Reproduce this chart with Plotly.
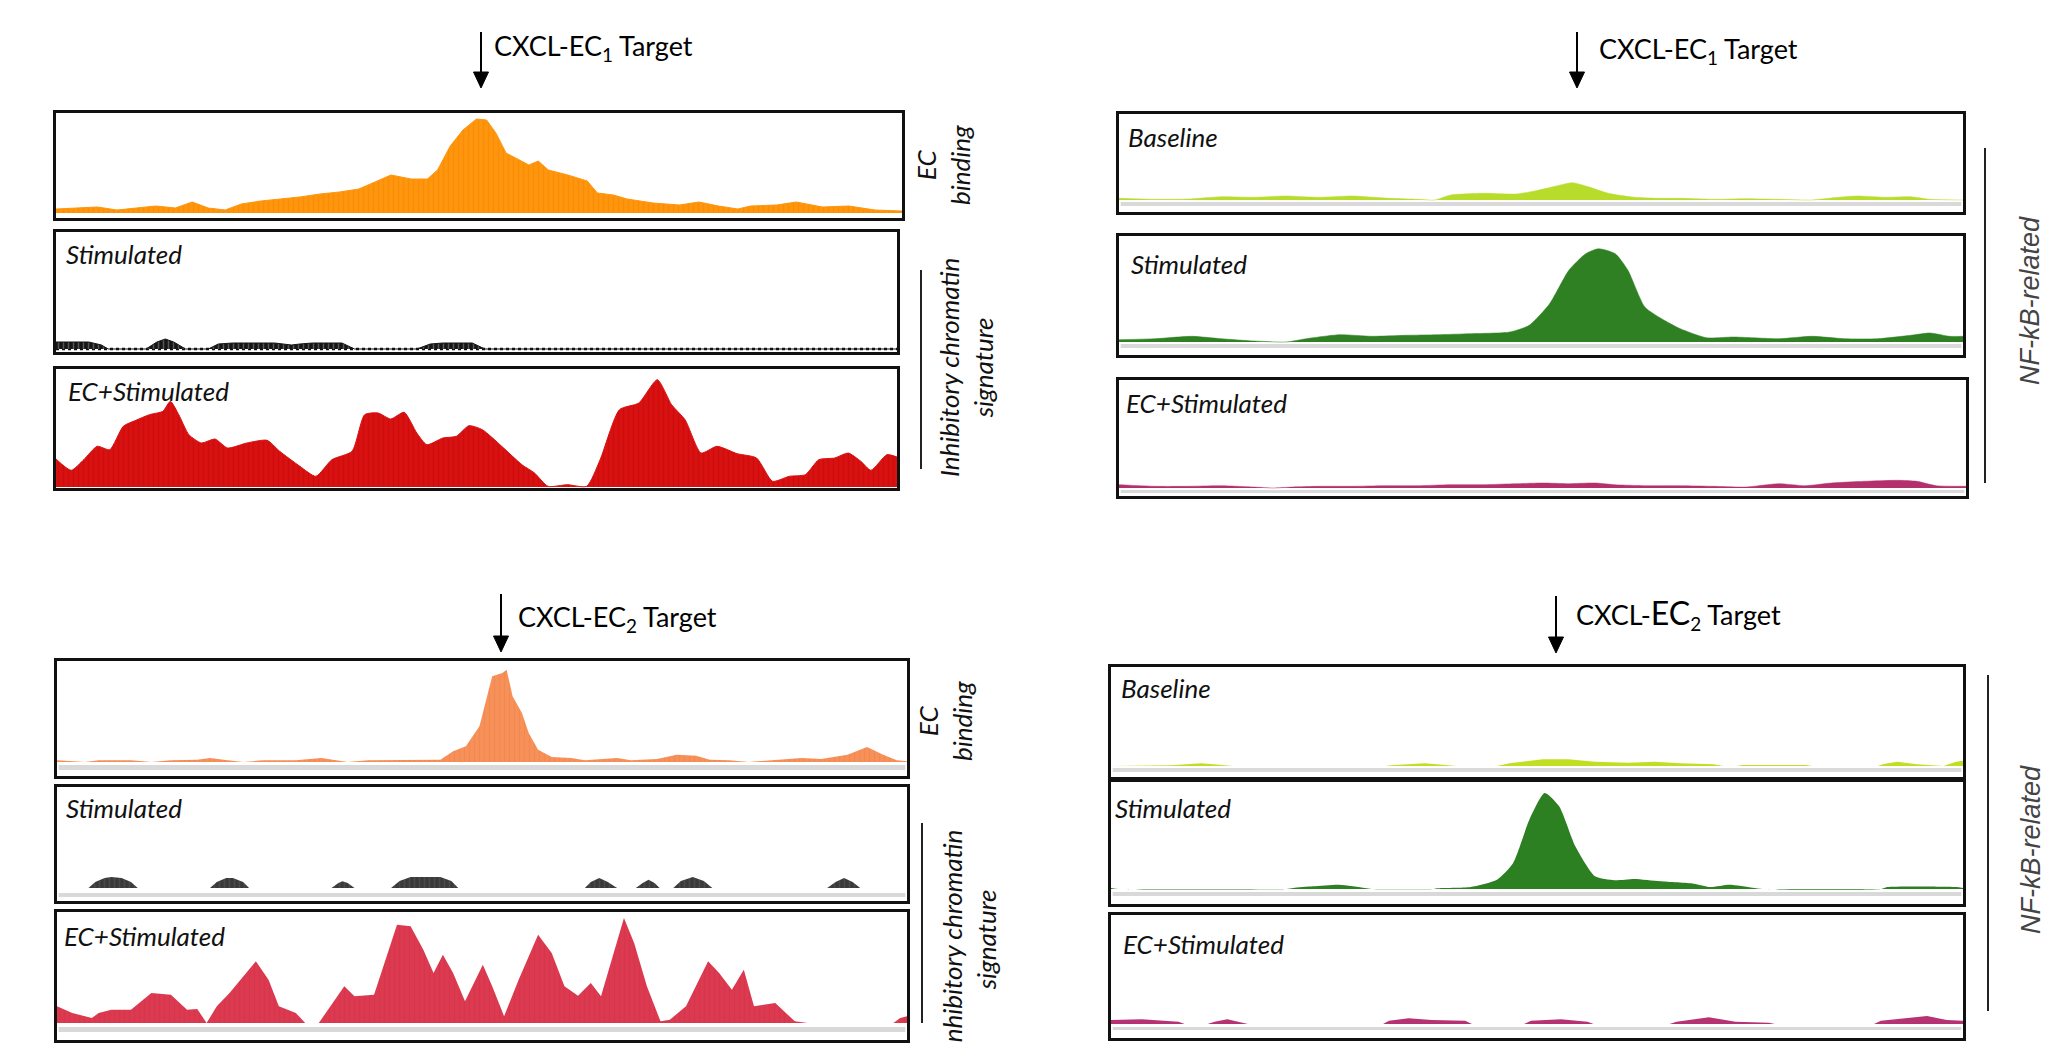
import plotly.graph_objects as go

W, H = 2047, 1043

# ---------------- data (position along locus in %, signal height) ----------------
# CXCL-EC1 locus, left group
EC1_BIND_X = [0, 4.9, 7.2, 9.5, 11.8, 14.1, 16.1, 18.0, 20.0, 21.9, 24.2, 26.5, 28.8, 31.2, 33.5, 35.8,
              38.1, 39.6, 42.0, 43.9, 45.1, 46.6, 48.1, 49.7, 50.9, 52.0, 53.2, 54.7, 55.9, 57.0, 58.2,
              60.5, 62.8, 64.0, 65.9, 67.5, 70.6, 73.7, 76.0, 78.3, 80.6, 82.1, 85.2, 87.5, 90.6, 93.7,
              96.8, 100]
EC1_BIND_Y = [4, 6, 3, 5, 7, 5, 11, 5, 3, 9, 12, 14, 16, 19, 21, 24, 32, 38, 34, 34, 43, 67, 83, 94, 93,
              80, 60, 53, 48, 52, 43, 38, 32, 20, 18, 14, 10, 8, 11, 7, 4, 7, 8, 11, 6, 7, 3, 2]

EC1_STIM_X = [0, 3.9, 5.4, 6.2, 10.7, 12.0, 13.0, 14.0, 15.4, 18.1, 19.3, 21.0, 26.0, 28.0, 29.0, 30.5,
              34.0, 35.5, 42.9, 44.5, 46.0, 49.5, 51.0, 100]
EC1_STIM_Y = [7, 7, 4, 0, 0, 7, 10, 7, 0, 0, 5, 6, 6, 4, 5, 6, 6, 0, 0, 5, 6, 6, 0, 0]

EC1_ECSTIM_X = [0, 1.8, 3.3, 4.9, 6.4, 8.0, 9.5, 11.1, 12.7, 13.6, 14.6, 15.8, 17.3, 18.9, 20.4, 22.7,
                25.1, 26.6, 29.0, 30.9, 32.8, 35.2, 36.7, 38.3, 39.8, 41.4, 42.9, 44.1, 46.0, 47.6, 49.1,
                50.7, 53.0, 55.4, 56.9, 58.5, 60.8, 63.1, 64.7, 67.0, 69.3, 71.5, 73.2, 74.8, 76.7, 78.6,
                81.0, 83.3, 85.2, 87.2, 89.1, 90.7, 92.6, 94.2, 95.7, 96.9, 98.8, 100]
EC1_ECSTIM_Y = [28, 16.7, 27.3, 40.7, 37.3, 60.7, 66.7, 72.3, 75.7, 85.7, 72.3, 52.3, 44, 48, 39, 44, 46.7,
                35.7, 20.7, 10.7, 27.3, 35.7, 72.3, 74, 68, 74.7, 54, 42.3, 49, 50.7, 61.3, 57.3, 40.7,
                22.3, 14, 0.7, 2.3, 0.7, 27.3, 77.3, 84, 107.3, 82.3, 67.3, 34, 40.7, 33.3, 29, 5.7, 10.7,
                12.3, 27.3, 29, 34, 25.7, 16.7, 32.3, 30]

# CXCL-EC1 locus, NF-kB group
NFK1_BASE_X = [0, 4.3, 8.2, 12.1, 16.0, 19.8, 23.7, 27.6, 31.5, 35.4, 37.4, 39.3, 43.2, 47.1, 49.4, 51.8,
               53.7, 55.6, 58.0, 61.1, 64.2, 66.5, 70.4, 74.3, 78.2, 82.1, 85.2, 87.5, 90.7, 93.8, 96.1, 100]
NFK1_BASE_Y = [1.7, 0.7, 1, 3.3, 2.7, 4, 2.7, 4, 2, 0.7, 0, 5, 6.7, 6, 9.3, 14, 17.3, 13.3, 6.7, 2.7, 1.7,
               1.7, 0.7, 1.3, 0.7, 0, 2.7, 4, 2.7, 3.3, 0.7, 0]

NFK1_STIM_X = [0, 4.3, 8.6, 12.1, 16.0, 19.8, 22.2, 26.1, 30.0, 33.9, 37.7, 41.6, 46.3, 48.6, 51.0, 53.3,
               55.3, 56.8, 58.8, 60.3, 62.3, 64.6, 66.5, 69.6, 72.8, 78.2, 82.1, 86.0, 89.9, 93.8, 96.1,
               98.4, 100]
NFK1_STIM_Y = [2.3, 3.3, 5.7, 3.3, 1, 0, 3.3, 7.3, 5.7, 6.7, 7.3, 8.3, 10, 16.7, 38, 71.7, 88.3, 93.3,
               88.3, 71.7, 35, 21.7, 13.3, 4.3, 5, 3.3, 5.7, 3.3, 3.3, 6.7, 9, 5.7, 5.7]

NFK1_ECSTIM_X = [0, 4.3, 8.1, 12.0, 15.9, 18.2, 20.5, 23.6, 27.5, 31.4, 35.3, 39.1, 43.0, 46.9, 50.0,
                 53.1, 56.2, 58.5, 62.4, 66.3, 70.2, 74.0, 77.9, 81.0, 84.1, 88.0, 91.9, 94.2, 96.5, 100]
NFK1_ECSTIM_Y = [3.3, 1.7, 1.7, 2.3, 1, 0, 1, 1.7, 1.7, 2.3, 2.3, 3.3, 3.3, 4.3, 5, 4.3, 5, 3.3, 2.3, 2.3,
                 1.7, 1, 4.3, 2.3, 5, 6.7, 7.7, 6.7, 2.3, 1.7]

# CXCL-EC2 locus, left group
EC2_BIND_X = [0, 3.3, 4.9, 8.7, 11.1, 13.4, 16.5, 18.0, 19.6, 21.9, 24.2, 28.1, 31.1, 32.7, 34.2, 36.6,
              41.2, 45.1, 46.6, 48.1, 49.7, 51.2, 52.4, 52.9, 53.6, 54.7, 55.5, 56.6, 58.2, 60.5, 62.1,
              65.9, 67.5, 70.6, 72.9, 75.2, 76.8, 79.1, 81.4, 83.7, 87.6, 89.9, 93.0, 95.3, 97.2, 98.8, 100]
EC2_BIND_Y = [1.7, 0, 1.7, 1.7, 0, 1.7, 2.3, 4, 2.3, 0, 1.7, 1.7, 4, 1.7, 0, 1.7, 1.7, 2.3, 10.7, 15.7,
              35.7, 85.7, 89, 92.3, 65.7, 49, 29, 12.3, 5, 4, 1.7, 4, 1.7, 3, 7.3, 6.3, 2.3, 1.7, 0, 1.7,
              4, 3, 7.3, 15, 7.3, 1.7, 0.7]

EC2_STIM_X = [0, 3.7, 4.5, 5.6, 6.4, 7.6, 8.7, 9.5, 18.0, 18.8, 19.9, 20.7, 21.9, 22.6, 32.3, 33.1, 33.6,
              34.2, 35.0, 39.3, 40.3, 41.6, 45.1, 46.4, 47.2, 62.1, 62.8, 63.8, 64.8, 65.9, 68.1, 68.9,
              69.6, 70.3, 70.9, 72.5, 73.4, 74.8, 76.1, 77.1, 90.6, 91.6, 92.6, 93.6, 94.5, 100]
EC2_STIM_Y = [0, 0, 6, 10, 11, 10, 6, 0, 0, 6, 10, 10, 6, 0, 0, 5, 6.7, 5, 0, 0, 7, 11, 11, 7, 0, 0, 6,
              10, 6, 0, 0, 5, 8.3, 5, 0, 0, 7, 11, 7, 0, 0, 6, 10, 6, 0, 0]

EC2_ECSTIM_X = [0, 1.8, 4.1, 4.9, 6.4, 8.7, 11.1, 13.4, 15.3, 16.5, 17.6, 18.8, 20.3, 23.4, 24.9, 26.1,
                28.1, 29.2, 30.8, 31.9, 33.8, 35.0, 37.3, 40.0, 41.6, 43.1, 44.3, 45.4, 46.6, 48.0, 50.1,
                51.2, 52.6, 54.3, 56.6, 58.2, 59.7, 61.3, 62.8, 64.0, 65.5, 66.7, 67.9, 69.4, 71.0, 72.1,
                74.0, 76.6, 77.9, 79.4, 80.8, 82.0, 84.5, 86.8, 88.3, 98.4, 99.2, 100]
EC2_ECSTIM_Y = [16.7, 10, 5, 10, 13.3, 13.3, 30, 28.3, 13.3, 14, 0, 16.7, 30, 61.7, 43, 16.7, 10, 0, 0,
                13.3, 36.7, 26.7, 28.3, 98.3, 96.7, 73.3, 50, 68.3, 50, 21.7, 58.3, 36.7, 6.7, 43, 88.3,
                70, 36.7, 27.3, 40, 26.7, 70, 105, 80, 36.7, 1.7, 3.3, 16.7, 61.7, 50, 33.3, 53.3, 16.7,
                20, 1.7, 0, 0, 5, 6.7]

# CXCL-EC2 locus, NF-kB group
NFK2_BASE_X = [0, 6.3, 7.1, 10.6, 13.6, 14.4, 32.2, 32.9, 36.8, 39.9, 40.6, 45.3, 46.8, 50.7, 53.7, 56.8,
               60.7, 63.8, 66.8, 70.7, 71.9, 73.4, 74.2, 81.5, 82.3, 90.0, 90.7, 92.3, 94.6, 97.7, 99.2, 100]
NFK2_BASE_Y = [0, 0, 0.7, 2.7, 0.7, 0, 0, 0.7, 2.7, 0.7, 0, 0, 2.7, 6.7, 6.7, 4.3, 3.3, 4.3, 2.7, 1.7, 0,
               0, 1, 1, 0, 0, 2, 4.3, 1.7, 0, 4.3, 5.3]

NFK2_STIM_X = [0, 0.9, 20.6, 21.4, 23.7, 26.8, 29.8, 30.6, 37.9, 38.3, 42.2, 45.3, 47.2, 49.1, 50.9, 52.6,
               54.5, 56.8, 59.1, 61.4, 64.5, 68.4, 70.3, 72.6, 75.3, 76.5, 90.4, 91.1, 99.2, 100]
NFK2_STIM_Y = [1, 0, 0, 1, 2.7, 4.3, 1, 0, 0, 0.7, 2, 9.3, 26, 69.3, 96, 82.7, 42.7, 12.7, 8.7, 10, 7.7,
               5.3, 2, 4.3, 1.3, 0, 0, 2, 2, 1]

NFK2_ECSTIM_X = [0, 3.6, 7.9, 8.6, 11.3, 12.1, 13.6, 15.2, 16.0, 31.8, 32.5, 34.8, 37.5, 41.4, 42.2, 48.3,
                 49.1, 52.6, 55.7, 56.4, 65.3, 66.1, 69.9, 73.0, 76.9, 77.6, 89.2, 90.0, 95.4, 97.7, 99.6]
NFK2_ECSTIM_Y = [4, 4.7, 2.3, 0, 0, 2.3, 4.7, 1.3, 0, 0, 3.3, 5.7, 4, 3.3, 0, 0, 3.3, 4.7, 2.3, 0, 0, 2.3,
                 6.7, 2.3, 1.3, 0, 0, 3.3, 8, 4, 3.3]

TITLES = ["CXCL-EC<sub>1</sub> Target", "CXCL-EC<sub>1</sub> Target",
          "CXCL-EC<sub>2</sub> Target", "CXCL-<span style='font-size:32px'>EC</span><sub>2</sub> Target"]
TRACK_LABELS = ["Stimulated", "EC+Stimulated", "Baseline"]
SIDE_LABELS = ["EC<br>binding", "Inhibitory chromatin<br>signature", "NF-kB-related"]

# ---------------- layout helpers ----------------
def px(x):
    return x / W

def py(y):
    return 1 - y / H

FONT = "Lato"

panels = [
    # (x data, y data, colour, pattern fg, line shape, line width, box(x0,x1,ytop,ybot), baseline px, band px, label)
    (EC1_BIND_X, EC1_BIND_Y, "#ff960e", "#f28300", "linear", 1, (56, 902, 113, 218), 213, None, None),
    (EC1_STIM_X, EC1_STIM_Y, "#151515", "#9a9a9a", "linear", 1, (56, 897, 232, 352), 349, None, (TRACK_LABELS[0], 64, 252)),
    (EC1_ECSTIM_X, EC1_ECSTIM_Y, "#d81111", "#c40808", "spline", 1, (56, 897, 369, 488), 487, None, (TRACK_LABELS[1], 66, 389)),
    (NFK1_BASE_X, NFK1_BASE_Y, "#b7dc2b", None, "spline", 0.5, (1119, 1963, 114, 212), 200, (202, 206), (TRACK_LABELS[2], 1126, 135)),
    (NFK1_STIM_X, NFK1_STIM_Y, "#2e8022", None, "spline", 0.5, (1119, 1963, 236, 355), 342, (344, 348), (TRACK_LABELS[0], 1129, 262)),
    (NFK1_ECSTIM_X, NFK1_ECSTIM_Y, "#b3306c", None, "spline", 0.5, (1119, 1966, 380, 496), 488, (490, 493), (TRACK_LABELS[1], 1124, 401)),
    (EC2_BIND_X, EC2_BIND_Y, "#f7915a", "#f08248", "linear", 0, (57, 907, 661, 776), 762, (765, 770), None),
    (EC2_STIM_X, EC2_STIM_Y, "#3a3a3a", "#5a5a5a", "linear", 0, (57, 907, 787, 901), 888, (893, 897), (TRACK_LABELS[0], 64, 806)),
    (EC2_ECSTIM_X, EC2_ECSTIM_Y, "#dc3a50", "#d03046", "linear", 0, (57, 907, 912, 1040), 1023, (1027, 1032), (TRACK_LABELS[1], 62, 934)),
    (NFK2_BASE_X, NFK2_BASE_Y, "#c1df22", None, "linear", 0, (1111, 1963, 667, 777), 766, (768, 772), (TRACK_LABELS[2], 1119, 686)),
    (NFK2_STIM_X, NFK2_STIM_Y, "#2d8022", None, "spline", 0, (1111, 1963, 782, 904), 889, (892, 896), (TRACK_LABELS[0], 1113, 806)),
    (NFK2_ECSTIM_X, NFK2_ECSTIM_Y, "#b53372", None, "linear", 0, (1111, 1963, 915, 1038), 1024, (1027, 1030), (TRACK_LABELS[1], 1121, 942)),
]

fig = go.Figure()
layout = dict(width=W, height=H, margin=dict(l=0, r=0, t=0, b=0),
              paper_bgcolor="white", plot_bgcolor="white", showlegend=False)
shapes = []
annotations = []

for i, (xs, ys, col, pfg, shp, lw, box, base, band, label) in enumerate(panels, start=1):
    x0, x1, yt, yb = box
    sfx = "" if i == 1 else str(i)
    layout["xaxis" + sfx] = dict(domain=[px(x0), px(x1)], range=[xs[0], xs[-1]], anchor="y" + sfx,
                                 showline=True, mirror=True, linecolor="#111", linewidth=3,
                                 showgrid=False, zeroline=False, showticklabels=False, ticks="",
                                 fixedrange=True)
    layout["yaxis" + sfx] = dict(domain=[py(yb), py(yt)], range=[-(yb - base), base - yt], anchor="x" + sfx,
                                 showline=True, mirror=True, linecolor="#111", linewidth=3,
                                 showgrid=False, zeroline=False, showticklabels=False, ticks="",
                                 fixedrange=True)
    if band is not None:
        shapes.append(dict(type="rect", xref="x" + sfx + " domain", yref="y" + sfx,
                           x0=0.002, x1=0.998, y0=base - band[1], y1=base - band[0],
                           fillcolor="#d9d9d9", line=dict(width=0), layer="below"))
    tr = dict(x=xs, y=ys, mode="lines", fill="tozeroy", fillcolor=col,
              line=dict(color=col, width=lw, shape=shp, smoothing=0.6),
              xaxis="x" + sfx, yaxis="y" + sfx, hoverinfo="skip")
    if pfg is not None:
        tr["fillpattern"] = dict(shape="|", size=5, solidity=0.3, fgcolor=pfg, bgcolor=col)
    if i == 2:
        fig.add_trace(go.Scatter(x=[xs[0], xs[-1]], y=[0, 0], mode="lines",
                                 line=dict(color="#111", width=2.5, dash="dot"),
                                 xaxis="x" + sfx, yaxis="y" + sfx, hoverinfo="skip"))
    fig.add_trace(go.Scatter(**tr))
    if label is not None:
        annotations.append(dict(text="<i>" + label[0] + "</i>", x=px(label[1]), y=py(label[2] + 2),
                                xref="paper", yref="paper", xanchor="left", yanchor="middle",
                                showarrow=False, font=dict(family=FONT, size=26, color="#111")))

# arrows and locus titles
arrows = [(481, 32, 88, 492, 44), (1577, 32, 88, 1597, 47), (501, 594, 652, 516, 615), (1556, 596, 653, 1574, 611)]
for (ax_, ytop, ytip, tx, ty), title in zip(arrows, TITLES):
    head = 16
    shapes.append(dict(type="line", xref="paper", yref="paper", x0=px(ax_), x1=px(ax_),
                       y0=py(ytop), y1=py(ytip - head + 2), line=dict(color="black", width=2)))
    shapes.append(dict(type="path", xref="paper", yref="paper",
                       path=f"M {px(ax_-7.5)},{py(ytip-head)} L {px(ax_+7.5)},{py(ytip-head)} L {px(ax_)},{py(ytip)} Z",
                       fillcolor="black", line=dict(color="black", width=1)))
    annotations.append(dict(text=title, x=px(tx), y=py(ty + 3), xref="paper", yref="paper",
                            xanchor="left", yanchor="middle", showarrow=False,
                            font=dict(family=FONT, size=27, color="black")))

# side group labels
side = [
    (SIDE_LABELS[0], 943, 165, FONT, 26, "#111"),
    (SIDE_LABELS[1], 966, 368, FONT, 26, "#111"),
    (SIDE_LABELS[0], 945, 721, FONT, 26, "#111"),
    (SIDE_LABELS[1], 969, 940, FONT, 26, "#111"),
    (SIDE_LABELS[2], 2030, 301, "Liberation Sans", 27, "#444"),
    (SIDE_LABELS[2], 2031, 850, "Liberation Sans", 27, "#444"),
]
for text, cx, cy, fam, size, col in side:
    annotations.append(dict(text="<i>" + text + "</i>", x=px(cx), y=py(cy), xref="paper", yref="paper",
                            xanchor="center", yanchor="middle", textangle=-90, showarrow=False,
                            align="center", font=dict(family=fam, size=size, color=col)))

# bracket lines
for lx, ly0, ly1 in [(921, 270, 469), (922, 823, 1023), (1985, 148, 483), (1988, 675, 1011)]:
    shapes.append(dict(type="line", xref="paper", yref="paper", x0=px(lx), x1=px(lx),
                       y0=py(ly0), y1=py(ly1), line=dict(color="#222", width=2)))

layout["shapes"] = shapes
layout["annotations"] = annotations
fig.update_layout(**layout)
fig.write_html("out.html", config={"displayModeBar": False},
               post_script="document.body.style.margin='0';document.body.style.overflow='hidden';")
